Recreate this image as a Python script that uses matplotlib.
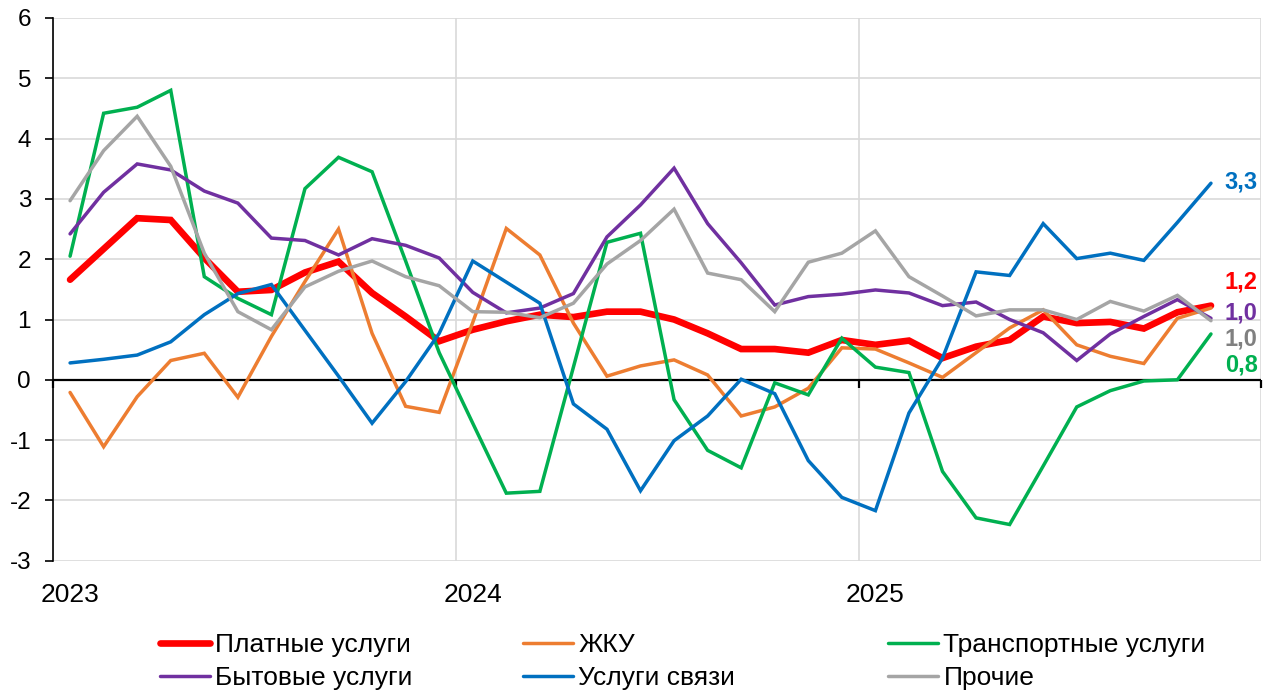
import numpy as np
import matplotlib
matplotlib.use("Agg")
import matplotlib.pyplot as plt
from matplotlib.lines import Line2D

plt.rcParams['font.family'] = ['Liberation Sans', 'DejaVu Sans']

# ---- data (monthly, Jan 2023 .. Nov 2025) ----
years = ["2023", "2024", "2025"]
labels = ["Платные услуги", "ЖКУ", "Транспортные услуги",
          "Бытовые услуги", "Услуги связи", "Прочие"]

platnye = [1.66, 2.17, 2.68, 2.65, 2.02, 1.46, 1.49, 1.78, 1.96, 1.44, 1.05, 0.64,
           0.83, 0.97, 1.08, 1.04, 1.13, 1.13, 1.00, 0.77, 0.51, 0.51, 0.45, 0.66,
           0.58, 0.65, 0.36, 0.55, 0.66, 1.05, 0.94, 0.96, 0.85, 1.12, 1.23]
zhku = [-0.21, -1.11, -0.28, 0.32, 0.44, -0.29, 0.72, 1.63, 2.50, 0.77, -0.44, -0.54,
        0.95, 2.51, 2.07, 0.94, 0.06, 0.23, 0.33, 0.08, -0.60, -0.45, -0.14, 0.53,
        0.51, 0.28, 0.04, 0.45, 0.86, 1.16, 0.58, 0.39, 0.27, 1.02, 1.19]
transport = [2.05, 4.42, 4.52, 4.80, 1.71, 1.35, 1.08, 3.17, 3.69, 3.45, 1.97, 0.45,
             -0.72, -1.88, -1.85, 0.21, 2.28, 2.43, -0.33, -1.17, -1.46, -0.05, -0.25, 0.69,
             0.21, 0.12, -1.52, -2.29, -2.40, -1.43, -0.45, -0.18, -0.02, 0.00, 0.76]
bytovye = [2.42, 3.11, 3.58, 3.48, 3.13, 2.93, 2.35, 2.31, 2.07, 2.34, 2.23, 2.02,
           1.45, 1.11, 1.19, 1.43, 2.37, 2.90, 3.51, 2.59, 1.94, 1.24, 1.38, 1.42,
           1.49, 1.44, 1.23, 1.29, 1.00, 0.78, 0.32, 0.76, 1.05, 1.33, 1.02]
svyaz = [0.28, 0.34, 0.41, 0.63, 1.08, 1.43, 1.58, 0.82, 0.06, -0.72, -0.03, 0.77,
         1.97, 1.62, 1.27, -0.40, -0.82, -1.84, -1.01, -0.60, 0.01, -0.23, -1.34, -1.95,
         -2.17, -0.55, 0.36, 1.79, 1.73, 2.59, 2.01, 2.10, 1.98, 2.61, 3.26]
prochie = [2.97, 3.80, 4.37, 3.54, 2.10, 1.13, 0.83, 1.54, 1.80, 1.97, 1.71, 1.56,
           1.13, 1.12, 1.03, 1.27, 1.92, 2.31, 2.83, 1.77, 1.66, 1.13, 1.95, 2.10,
           2.47, 1.71, 1.39, 1.06, 1.16, 1.16, 1.00, 1.30, 1.14, 1.40, 0.98]

end_labels = ["1,2", "", "0,8", "1,0", "3,3", "1,0"]

# ---- styles ----
series = [platnye, zhku, transport, bytovye, svyaz, prochie]
colors = ["#FF0000", "#ED7D31", "#00B050", "#7030A0", "#0070C0", "#A5A5A5"]
label_colors = ["#FF0000", "#ED7D31", "#00B050", "#7030A0", "#0070C0", "#808080"]
widths = [4.8, 2.5, 2.5, 2.5, 2.5, 2.5]
# end-label offsets in points (dx, dy) from the last point
label_offsets = [(10, 17), (0, 0), (10, -22), (10, 4), (10, 1), (10, -13)]

W, H = 1269, 691
fig = plt.figure(figsize=(W / 100, H / 100), dpi=100)
ax = fig.add_axes([53.3 / W, 1 - 560.7 / H, 1208 / W, 542.7 / H])

x = np.arange(len(platnye)) + 0.5
for i in range(6):
    ax.plot(x, series[i], color=colors[i], lw=widths[i],
            solid_capstyle='round', solid_joinstyle='miter', zorder=3)

for i in range(6):
    if end_labels[i]:
        ax.annotate(end_labels[i], xy=(x[-1], series[i][-1]),
                    xytext=label_offsets[i], textcoords='offset points',
                    ha='left', va='center', fontsize=17, fontweight='bold',
                    color=label_colors[i], zorder=5)

ax.set_xlim(0, 36)
ax.set_ylim(-3, 6)
ax.set_yticks(range(-3, 7))
ax.set_yticklabels([str(v) for v in range(-3, 7)])
ax.set_xticks([0.5, 12.5, 24.5])
ax.set_xticklabels(years)
ax.set_xticks([0, 12, 24, 36], minor=True)

ax.tick_params(axis='y', direction='out', length=6, width=1.2, pad=10,
               labelsize=17.5, color='black')
ax.tick_params(axis='x', which='both', length=0, pad=16, labelsize=19)
ax.grid(True, axis='y', which='major', color='#D9D9D9', lw=1.2, zorder=0)
ax.grid(True, axis='x', which='minor', color='#D9D9D9', lw=1.2, zorder=0)
for s in ['top', 'right', 'bottom']:
    ax.spines[s].set_visible(False)
ax.spines['left'].set_color('black')
ax.spines['left'].set_linewidth(1.2)
ax.set_axisbelow(True)

# zero axis line with tick marks at year boundaries
ax.axhline(0, color='black', lw=1.6, zorder=2.5)
ax.plot([0, 12, 24, 36], [0, 0, 0, 0], ls='none', marker=3, ms=6, mew=1.6,
        color='black', clip_on=False, zorder=2.5)

# legend: three columns of two entries
col_x = [160, 523, 888]
col_items = [(0, 3), (1, 4), (2, 5)]
for cx, (a, b) in zip(col_x, col_items):
    handles = [Line2D([], [], color=colors[a], lw=widths[a], solid_capstyle='round'),
               Line2D([], [], color=colors[b], lw=widths[b], solid_capstyle='round')]
    fig.legend(handles, [labels[a], labels[b]], loc='upper left',
               bbox_to_anchor=(cx / W, 1 - 633 / H), frameon=False,
               fontsize=19, borderpad=0, borderaxespad=0, handlelength=1.9,
               handletextpad=0.2, labelspacing=0.35)

fig.savefig("out.png", dpi=100)
